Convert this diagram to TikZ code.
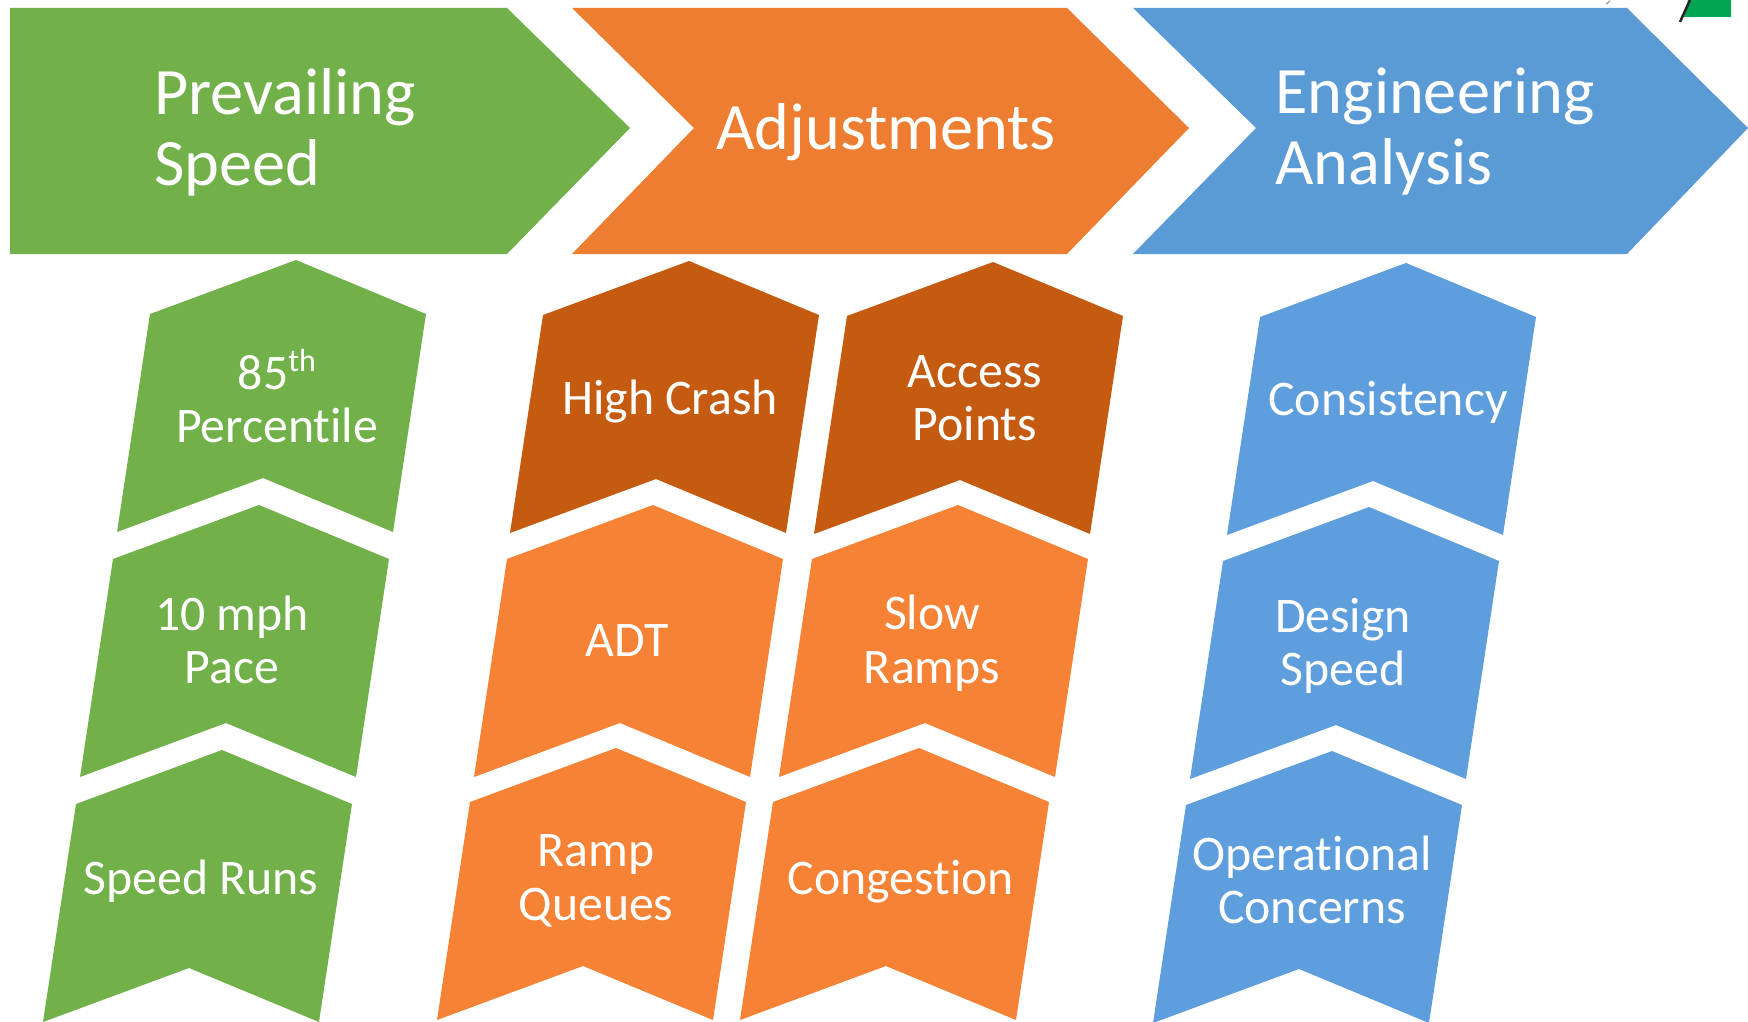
\documentclass[tikz,border=0pt]{standalone}
\usepackage{xcolor}
\usepackage{fontspec}
\setmainfont[Ligatures=NoCommon]{Carlito}
\usetikzlibrary{positioning}

\definecolor{leafgreen}{HTML}{72B04A}
\definecolor{headorange}{HTML}{ED7D31}
\definecolor{boxorange}{HTML}{F58235}
\definecolor{darkorange}{HTML}{C55A11}
\definecolor{headblue}{HTML}{5B9BD5}
\definecolor{boxblue}{HTML}{5E9EDC}
\definecolor{flaggreen}{HTML}{00A651}

\begin{document}
\begin{tikzpicture}[
        x=1pt, y=-1pt,
        head/.style={text=white, font=\fontsize{66.3}{71}\selectfont, align=left},
        label/.style={text=white, font=\fontsize{49.8}{53.5}\selectfont, align=center},
        chevbox/.pic={\path[pic actions] (0,0) -- (130,54) -- (97,272) -- (-33,218) -- (-179,272) -- (-146,54) -- cycle;}
    ]
    \useasboundingbox (0,0) rectangle (1748,1022);

    % top arrows
    \fill[leafgreen] (10,8) -- (507,8) -- (630,128) -- (507,254) -- (10,254) -- cycle;
    \fill[headorange] (572,8) -- (1067,8) -- (1189,128) -- (1067,254) -- (572,254) -- (694,128) -- cycle;
    \fill[headblue] (1133,8) -- (1627,8) -- (1748,128) -- (1627,254) -- (1133,254) -- (1256,128) -- cycle;

    % mark in the corner
    \fill[flaggreen] (1688,0) -- (1731,0) -- (1731,17) -- (1684,17) -- cycle;
    \draw[black!85, line width=2.5pt] (1680,22) -- (1690,0);
    \draw[black!35, line width=1.5pt] (1606,4) -- (1610,1);

    % chevrons
    \foreach \x/\y in {296/260, 259/505, 222/750}
        \pic[fill=leafgreen] at (\x,\y) {chevbox};
    \pic[fill=darkorange] at (689,261) {chevbox};
    \pic[fill=darkorange] at (993,262) {chevbox};
    \foreach \x/\y in {653/505, 616/748, 958/505, 919/748}
        \pic[fill=boxorange] at (\x,\y) {chevbox};
    \foreach \x/\y in {1406/263, 1369/507, 1332/751}
        \pic[fill=boxblue] at (\x,\y) {chevbox};

    % texts
    \node[head] (prevailing) at (285,132) {Prevailing\\Speed};
    \node[head] (adjust) at (886,132) {Adjustments};
    \node[head] (engineering) at (1435,132) {Engineering\\Analysis};

    \node[label] (pct) at (277,396) {85\raisebox{0.36em}{\fontsize{32}{32}\selectfont th}\\Percentile};
    \node[label] (pace) at (232,640) {10 mph\\Pace};
    \node[label] (runs) at (201,881) {Speed Runs};

    \node[label] (crash) at (670,401) {High Crash};
    \node[label] (adt) at (627,641) {ADT};
    \node[label] (queues) at (596,881) {Ramp\\Queues};

    \node[label] (access) at (975,398) {Access\\Points};
    \node[label] (ramps) at (932,643) {Slow\\Ramps};
    \node[label] (congestion) at (901,882) {Congestion};

    \node[label] (consistency) at (1388,402) {Consistency};
    \node[label] (design) at (1343,646) {Design\\Speed};
    \node[label] (concerns) at (1312,880) {Operational\\Concerns};
\end{tikzpicture}
\end{document}
